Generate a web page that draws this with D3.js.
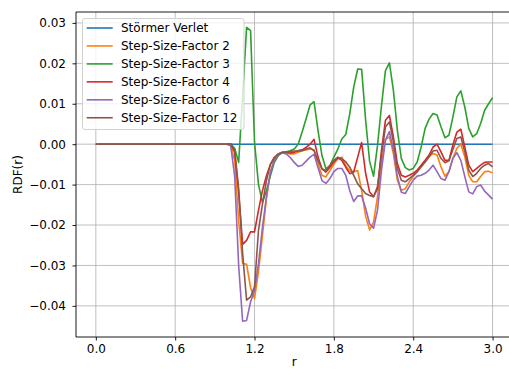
<!DOCTYPE html>
<html><head><meta charset="utf-8">
<script src="https://cdn.jsdelivr.net/npm/d3@7"></script>
<style>body{margin:0;background:#fff;} svg text{font-family:"DejaVu Sans",sans-serif;fill:#000;}</style>
</head><body>
<svg id="c" width="509" height="369"></svg>
<script>
const r = [0.00,0.03,0.06,0.09,0.12,0.15,0.18,0.21,0.24,0.27,
0.30,0.33,0.36,0.39,0.42,0.45,0.48,0.51,0.54,0.57,
0.60,0.63,0.66,0.69,0.72,0.75,0.78,0.81,0.84,0.87,
0.90,0.93,0.96,0.99,1.02,1.05,1.08,1.11,1.14,1.17,
1.20,1.23,1.26,1.29,1.32,1.35,1.38,1.41,1.44,1.47,
1.50,1.53,1.56,1.59,1.62,1.65,1.68,1.71,1.74,1.77,
1.80,1.83,1.86,1.89,1.92,1.95,1.98,2.01,2.04,2.07,
2.10,2.13,2.16,2.19,2.22,2.25,2.28,2.31,2.34,2.37,
2.40,2.43,2.46,2.49,2.52,2.55,2.58,2.61,2.64,2.67,
2.70,2.73,2.76,2.79,2.82,2.85,2.88,2.91,2.94,2.97,3.00];

const stormerVerlet = [0,0,0,0,0,0,0,0,0,0, 0,0,0,0,0,0,0,0,0,0, 0,0,0,0,0,0,0,0,0,0, 0,0,0,0,
0,0,0,0,0,0,0,0,0,0, 0,0,0,0,0,0,0,0,0,0, 0,0,0,0,0,0,0,0,0,0, 0,0,0,0,0,0,0,0,0,0,
0,0,0,0,0,0,0,0,0,0, 0,0,0,0,0,0,0,0,0,0, 0,0,0,0,0,0,0];

const ssf2 = [0,0,0,0,0,0,0,0,0,0, 0,0,0,0,0,0,0,0,0,0, 0,0,0,0,0,0,0,0,0,0, 0,0,0,0,
-0.0002,-0.004,-0.019,-0.0295,-0.0297,-0.0355,-0.0382,-0.0315,-0.0225,-0.0135,
-0.0068,-0.0037,-0.0025,-0.0021,-0.0021,-0.0024,-0.0024,-0.002,-0.0016,-0.0014,
-0.0012,-0.0014,-0.0049,-0.0077,-0.0081,-0.0065,-0.0049,-0.0036,-0.0032,-0.0053,
-0.0066,-0.0068,-0.0065,-0.0115,-0.0178,-0.0212,-0.0193,-0.013,-0.0048,0.0012,
0.0018,-0.0023,-0.0089,-0.0114,-0.011,-0.0093,-0.008,-0.0068,-0.0056,-0.0044,
-0.0031,-0.0023,-0.0027,-0.0056,-0.0079,-0.0068,-0.0035,-0.001,0.0,-0.0031,
-0.0077,-0.0093,-0.0093,-0.008,-0.0068,-0.0067,-0.0071];

const ssf3 = [0,0,0,0,0,0,0,0,0,0, 0,0,0,0,0,0,0,0,0,0, 0,0,0,0,0,0,0,0,0,0, 0,0,0,0,
0,-0.001,-0.0045,0.012,0.0289,0.0281,0.0005,-0.0100,-0.0144,-0.0115,
-0.0078,-0.0045,-0.0028,-0.0021,-0.0019,-0.0016,-0.0012,0.0,0.003,0.0063,
0.0097,0.0105,0.0034,-0.0028,-0.0061,-0.0053,-0.0032,-0.0012,0.0013,0.0024,
0.0075,0.0141,0.0186,0.0185,0.006,-0.0042,-0.0079,-0.0003,0.0095,0.0182,
0.0201,0.0133,0.0035,-0.0035,-0.0058,-0.0064,-0.006,-0.0044,-0.0007,0.0039,
0.0062,0.0076,0.0072,0.0043,0.0016,0.0022,0.0067,0.0117,0.0132,0.0092,
0.0039,0.0018,0.0026,0.0051,0.0084,0.0100,0.0115];

const ssf4 = [0,0,0,0,0,0,0,0,0,0, 0,0,0,0,0,0,0,0,0,0, 0,0,0,0,0,0,0,0,0,0, 0,0,0,0,
0,-0.002,-0.012,-0.0248,-0.0238,-0.0217,-0.0217,-0.0163,-0.0115,-0.0078,
-0.005,-0.0033,-0.0024,-0.002,-0.002,-0.0022,-0.002,-0.0016,-0.0014,-0.0008,
0.0,0.0012,-0.0032,-0.0061,-0.0069,-0.0057,-0.0044,-0.0034,-0.004,-0.0057,
-0.0073,-0.0069,-0.0032,0.0004,-0.0072,-0.0118,-0.013,-0.011,-0.0015,0.0059,
0.0071,0.0018,-0.0048,-0.0077,-0.0081,-0.0077,-0.0072,-0.0064,-0.0052,-0.004,
-0.0027,-0.0007,0.0,-0.0019,-0.004,-0.004,-0.0002,0.003,0.0037,-0.0007,
-0.0052,-0.0068,-0.006,-0.0052,-0.0045,-0.0044,-0.0044];

const ssf6 = [0,0,0,0,0,0,0,0,0,0, 0,0,0,0,0,0,0,0,0,0, 0,0,0,0,0,0,0,0,0,0, 0,0,0,0,
-0.0004,-0.008,-0.03,-0.0438,-0.0436,-0.039,-0.0362,-0.0295,-0.0205,-0.013,
-0.007,-0.004,-0.0026,-0.0021,-0.0024,-0.0033,-0.0045,-0.0055,-0.0052,-0.0042,
-0.0032,-0.0025,-0.0058,-0.009,-0.0097,-0.0085,-0.0068,-0.006,-0.006,-0.0077,
-0.0115,-0.0142,-0.0128,-0.0128,-0.0158,-0.0197,-0.0208,-0.0163,-0.0064,0.001,
0.0031,-0.0015,-0.008,-0.0119,-0.0122,-0.0105,-0.0089,-0.0079,-0.0077,-0.0072,
-0.0064,-0.0052,-0.0068,-0.0085,-0.0089,-0.0068,-0.0035,-0.0021,-0.004,-0.008,
-0.0118,-0.0123,-0.0105,-0.0101,-0.0116,-0.0126,-0.0136];

const ssf12 = [0,0,0,0,0,0,0,0,0,0, 0,0,0,0,0,0,0,0,0,0, 0,0,0,0,0,0,0,0,0,0, 0,0,0,0,
0.0001,-0.0015,-0.011,-0.027,-0.0386,-0.0378,-0.0352,-0.0213,-0.0148,-0.009,
-0.005,-0.0033,-0.0024,-0.002,-0.002,-0.0018,-0.0017,-0.0017,-0.0016,-0.0012,
-0.0009,-0.0016,-0.004,-0.0061,-0.0065,-0.0053,-0.004,-0.0032,-0.0036,-0.0044,
-0.0057,-0.0077,-0.0098,-0.011,-0.0122,-0.0127,-0.013,-0.0105,-0.0027,0.0043,
0.0055,0.0006,-0.006,-0.0089,-0.0093,-0.0085,-0.0077,-0.0068,-0.0056,-0.0044,
-0.0031,-0.0017,-0.0015,-0.0035,-0.0046,-0.0041,-0.0013,0.0014,0.0018,-0.0019,
-0.0064,-0.008,-0.0072,-0.006,-0.0052,-0.0048,-0.0056];

const seriesNames = ["Störmer Verlet","Step-Size-Factor 2","Step-Size-Factor 3","Step-Size-Factor 4","Step-Size-Factor 6","Step-Size-Factor 12"];
const seriesValues = [stormerVerlet, ssf2, ssf3, ssf4, ssf6, ssf12];
const seriesColors = ["#1f77b4","#ff7f0e","#2ca02c","#d62728","#9467bd","#8c564b"];
const xTicks = [0.0, 0.6, 1.2, 1.8, 2.4, 3.0];
const yTicks = [-0.04, -0.03, -0.02, -0.01, 0.00, 0.01, 0.02, 0.03];
const xLabel = "r";
const yLabel = "RDF(r)";

const P = {left:76, top:12, right:512.4, bottom:337};
const x = d3.scaleLinear().domain([-0.15, 3.15]).range([P.left, P.right]);
const y = d3.scaleLinear().domain([-0.0477, 0.0327]).range([P.bottom, P.top]);
const svg = d3.select("#c");
const FS = 12;

// grid
const grid = svg.append("g");
grid.selectAll(".gx").data(xTicks).enter().append("line")
  .attr("x1", d=>x(d)).attr("x2", d=>x(d)).attr("y1", P.top).attr("y2", P.bottom)
  .attr("stroke","#b0b0b0").attr("stroke-width",0.8);
grid.selectAll(".gy").data(yTicks).enter().append("line")
  .attr("x1", P.left).attr("x2", P.right).attr("y1", d=>y(d)).attr("y2", d=>y(d))
  .attr("stroke","#b0b0b0").attr("stroke-width",0.8);

// lines
const line = d3.line().x((d,i)=>x(r[i])).y(d=>y(d));
svg.append("g").selectAll("path").data(seriesValues).enter().append("path")
  .attr("d", d=>line(d)).attr("fill","none")
  .attr("stroke",(d,i)=>seriesColors[i]).attr("stroke-width",1.6)
  .attr("stroke-linejoin","round");

// spines
svg.append("line").attr("x1",P.left).attr("x2",P.left).attr("y1",P.top).attr("y2",P.bottom).attr("stroke","#000").attr("stroke-width",0.9);
svg.append("line").attr("x1",P.left).attr("x2",P.right).attr("y1",P.bottom).attr("y2",P.bottom).attr("stroke","#000").attr("stroke-width",0.9);
svg.append("line").attr("x1",P.left).attr("x2",P.right).attr("y1",P.top).attr("y2",P.top).attr("stroke","#000").attr("stroke-width",0.9);
svg.append("line").attr("x1",P.right).attr("x2",P.right).attr("y1",P.top).attr("y2",P.bottom).attr("stroke","#000").attr("stroke-width",0.9);

// axes
const xAxis = d3.axisBottom(x).tickValues(xTicks).tickFormat(d3.format(".1f")).tickSize(3.5).tickPadding(3).tickSizeOuter(0);
const gx = svg.append("g").attr("transform",`translate(0,${P.bottom})`).call(xAxis);
gx.select(".domain").remove();
gx.selectAll("line").attr("stroke","#000").attr("stroke-width",0.9);
gx.selectAll("text").attr("font-size",FS).attr("font-family","DejaVu Sans").attr("fill","#000").attr("y",7.3).attr("dy","0.71em");

const yAxis = d3.axisLeft(y).tickValues(yTicks).tickFormat(d3.format(".2f")).tickSize(3.5).tickPadding(6.5).tickSizeOuter(0);
const gy = svg.append("g").attr("transform",`translate(${P.left},0)`).call(yAxis);
gy.select(".domain").remove();
gy.selectAll("line").attr("stroke","#000").attr("stroke-width",0.9);
gy.selectAll("text").attr("font-size",FS).attr("font-family","DejaVu Sans").attr("fill","#000");

// axis labels
svg.append("text").attr("x",(P.left+P.right)/2).attr("y",365.5).attr("text-anchor","middle").attr("font-size",FS).text(xLabel);
svg.append("text").attr("transform",`translate(22,${(P.top+P.bottom)/2}) rotate(-90)`).attr("text-anchor","middle").attr("font-size",FS).text(yLabel);

// legend
const lg = svg.append("g");
lg.append("rect").attr("x",82.5).attr("y",18.5).attr("width",161.5).attr("height",111).attr("rx",2.5)
  .attr("fill","#fff").attr("fill-opacity",0.8).attr("stroke","#cccccc").attr("stroke-width",0.9);
const rowY = i => 28 + i*17.95;
lg.selectAll(".lh").data(seriesNames).enter().append("line")
  .attr("x1",86.7).attr("x2",112.7).attr("y1",(d,i)=>rowY(i)).attr("y2",(d,i)=>rowY(i))
  .attr("stroke",(d,i)=>seriesColors[i]).attr("stroke-width",1.6);
lg.selectAll(".lt").data(seriesNames).enter().append("text")
  .attr("x",121).attr("y",(d,i)=>rowY(i)+4.4).attr("font-size",FS).text(d=>d);
</script>
</body></html>
